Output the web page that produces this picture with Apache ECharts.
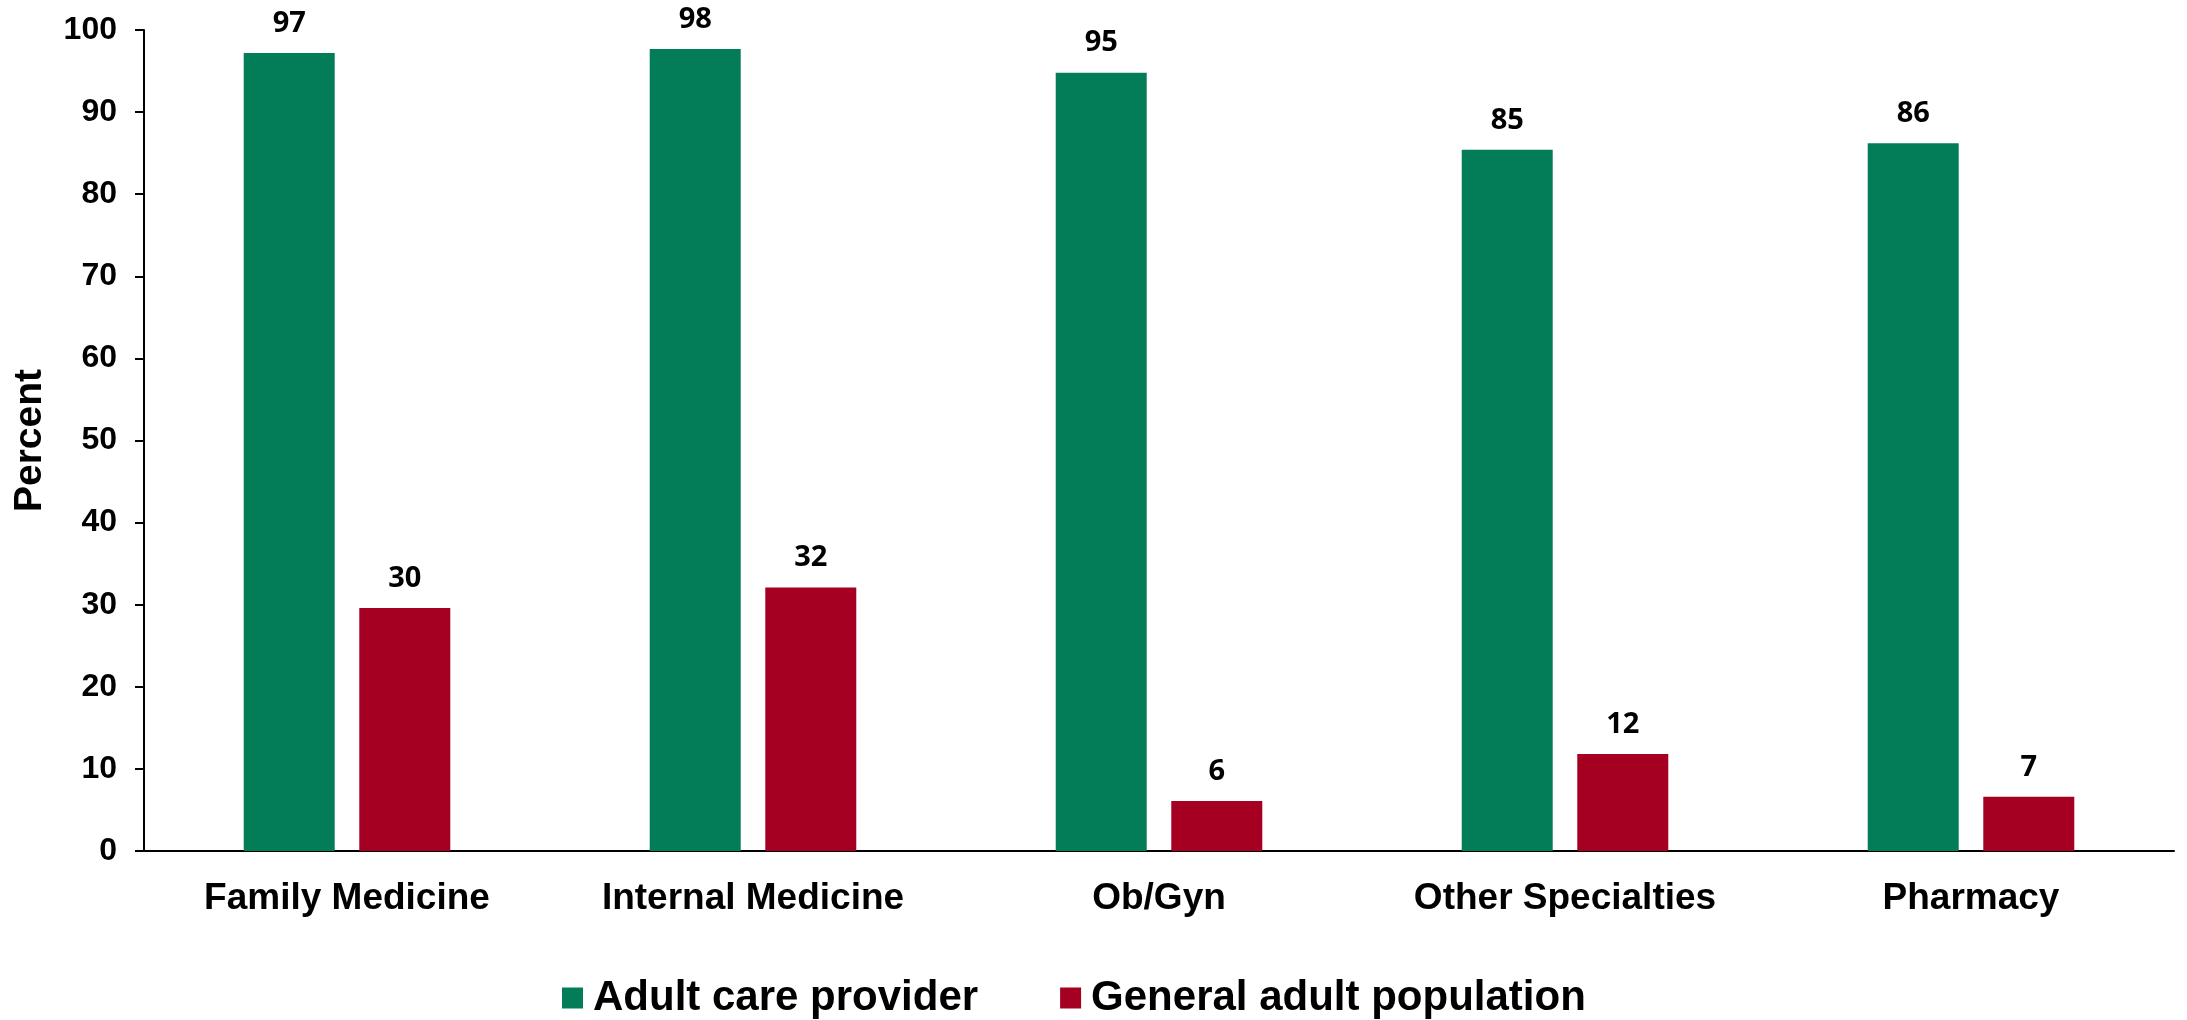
<!DOCTYPE html>
<html>
<head>
<meta charset="utf-8">
<title>Percent by setting</title>
<script src="https://cdn.jsdelivr.net/npm/echarts@6/dist/echarts.min.js"></script>
<style>
  html, body { margin: 0; padding: 0; background: #ffffff; }
  #chart { width: 2187px; height: 1020px; }
</style>
</head>
<body>
<div id="chart"></div>
<script>
// Categories along the x axis
const categories = ['Family Medicine', 'Internal Medicine', 'Ob/Gyn', 'Other Specialties', 'Pharmacy'];

// Series values (percent)
const adultCareProvider = [97.2, 97.7, 94.8, 85.4, 86.2];
const generalAdultPopulation = [29.6, 32.1, 6.1, 11.8, 6.6];

// Series names
const seriesNames = ['Adult care provider', 'General adult population'];

// Y axis range and step
const yMin = 0;
const yMax = 100;
const yStep = 10;

const GREEN = '#037D58';
const RED = '#A50021';
const AXIS_FONT = '"Liberation Sans", Arial, sans-serif';
const VALUE_FONT = '"Open Sans", "Noto Sans", sans-serif';

const valueLabel = {
  show: true,
  position: 'top',
  distance: 15,
  fontFamily: VALUE_FONT,
  fontWeight: 'bold',
  fontSize: 29,
  color: '#000000',
  formatter: p => Math.round(p.value)
};

const chart = echarts.init(document.getElementById('chart'), null, { renderer: 'canvas' });

chart.setOption({
  animation: false,
  backgroundColor: '#ffffff',
  grid: { left: 144, right: 13, top: 30, bottom: 169, containLabel: false },
  legend: {
    data: seriesNames,
    left: 557,
    top: 972,
    itemWidth: 21,
    itemHeight: 21,
    itemGap: 82,
    icon: 'rect',
    textStyle: {
      fontFamily: AXIS_FONT,
      fontWeight: 'bold',
      fontSize: 42,
      color: '#000000',
      padding: [0, 0, 0, 5]
    }
  },
  xAxis: {
    type: 'category',
    data: categories,
    axisLine: { show: true, lineStyle: { color: '#000000', width: 2 } },
    axisTick: { show: false },
    axisLabel: {
      margin: 29,
      fontFamily: AXIS_FONT,
      fontWeight: 'bold',
      fontSize: 37,
      color: '#000000'
    },
    splitLine: { show: false }
  },
  yAxis: {
    type: 'value',
    min: yMin,
    max: yMax,
    interval: yStep,
    name: 'Percent',
    nameLocation: 'middle',
    nameGap: 94,
    nameTextStyle: {
      fontFamily: AXIS_FONT,
      fontWeight: 'bold',
      fontSize: 39,
      color: '#000000'
    },
    axisLine: { show: true, lineStyle: { color: '#000000', width: 2 } },
    axisTick: { show: true, length: 9, inside: false, lineStyle: { color: '#000000', width: 2 } },
    axisLabel: {
      margin: 27,
      fontFamily: AXIS_FONT,
      fontWeight: 'bold',
      fontSize: 32,
      color: '#000000'
    },
    splitLine: { show: false }
  },
  series: [
    {
      name: seriesNames[0],
      type: 'bar',
      data: adultCareProvider,
      barWidth: 91,
      barGap: '27%',
      itemStyle: { color: GREEN },
      label: valueLabel
    },
    {
      name: seriesNames[1],
      type: 'bar',
      data: generalAdultPopulation,
      barWidth: 91,
      itemStyle: { color: RED },
      label: valueLabel
    }
  ]
});
</script>
</body>
</html>
